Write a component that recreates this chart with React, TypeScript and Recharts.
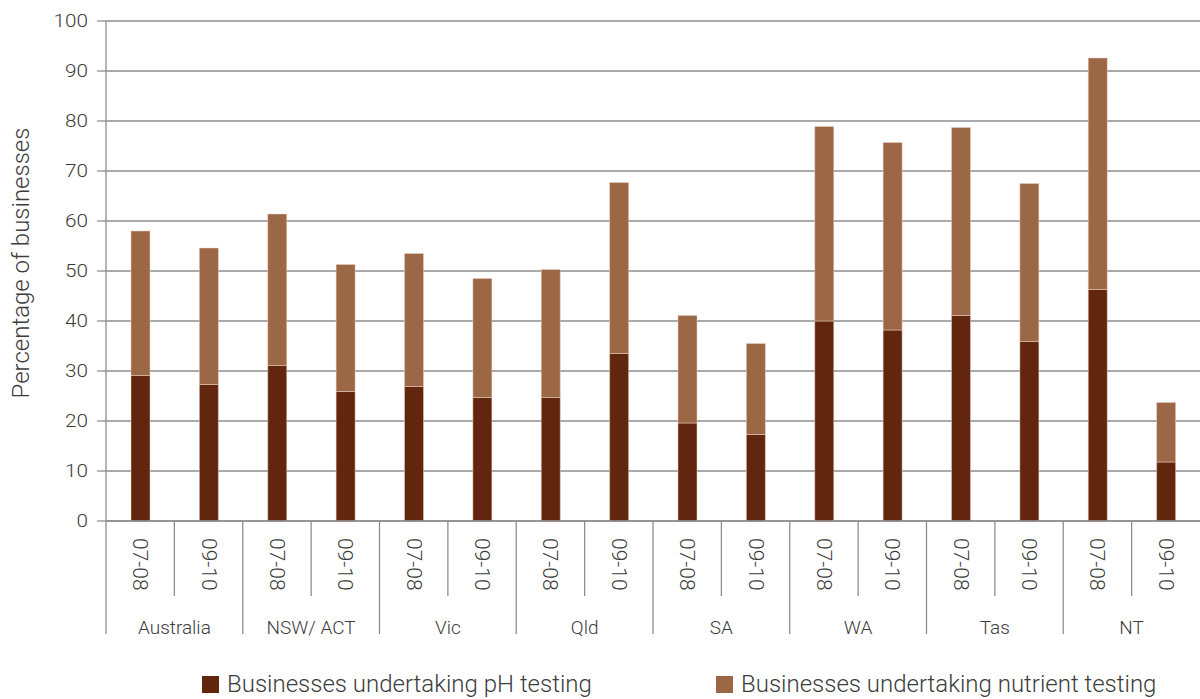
import { Bar, BarChart, CartesianGrid, Legend, XAxis, YAxis } from 'recharts';

const regions = ['Australia', 'NSW/ ACT', 'Vic', 'Qld', 'SA', 'WA', 'Tas', 'NT'];
const periods = ['07-08', '09-10'];

// % of businesses, two periods per region (07-08, 09-10)
const phTesting = [29.1, 27.3, 31.1, 25.9, 26.9, 24.7, 24.7, 33.5, 19.6, 17.3, 40.0, 38.2, 41.1, 35.9, 46.3, 11.8];
const nutrientTesting = [28.9, 27.3, 30.3, 25.4, 26.6, 23.8, 25.6, 34.2, 21.5, 18.2, 38.9, 37.5, 37.6, 31.6, 46.3, 11.9];

const yTicks = [0, 10, 20, 30, 40, 50, 60, 70, 80, 90, 100];
const seriesOrder = ['ph', 'nutrient'];

const rows = regions.flatMap((region, ri) =>
  periods.map((period, pi) => ({
    id: `${region} ${period}`,
    region,
    period,
    ph: phTesting[ri * 2 + pi],
    nutrient: nutrientTesting[ri * 2 + pi],
  })),
);

const W = 1200;
const H = 699;
const AXIS_W = 106;
const PLOT_W = W - AXIS_W;
const BAND = PLOT_W / rows.length;

const FONT = 'Roboto, "Liberation Sans", sans-serif';
const TEXT = '#3c3c3c';
const LINE = '#8e8e8e';
const DARK = '#62260f';
const LIGHT = '#9c6745';

function ValueTick(props: any) {
  const { x, y, payload } = props;
  return (
    <text
      transform={`translate(${x},${y}) scale(1.12,1)`}
      textAnchor="end"
      dominantBaseline="central"
      fontFamily={FONT}
      fontWeight={300}
      fontSize={18.5}
      fill={TEXT}
    >
      {payload.value}
    </text>
  );
}

function CategoryTick(props: any) {
  const { x, y, index } = props;
  const row = rows[index];
  if (!row) return null;
  const left = x - BAND / 2;
  const groupStart = index % 2 === 0;
  return (
    <g>
      <line x1={left} x2={left} y1={y} y2={groupStart ? y + 113 : y + 75} stroke={LINE} strokeWidth={1.3} />
      <text
        transform={`translate(${x},${y + 17}) rotate(90)`}
        textAnchor="start"
        dominantBaseline="central"
        fontFamily={FONT}
        fontWeight={300}
        fontSize={21}
        fill={TEXT}
      >
        {row.period}
      </text>
      {groupStart && (
        <text
          x={x + BAND / 2}
          y={y + 113}
          textAnchor="middle"
          fontFamily={FONT}
          fontWeight={300}
          fontSize={19}
          fill={TEXT}
        >
          {row.region}
        </text>
      )}
    </g>
  );
}

function AxisTitle(props: any) {
  const vb = props.viewBox || { x: 0, y: 21, width: AXIS_W, height: 500 };
  const cx = vb.x + 21;
  const cy = vb.y + vb.height / 2 - 8;
  return (
    <text
      transform={`translate(${cx},${cy}) rotate(-90)`}
      textAnchor="middle"
      dominantBaseline="central"
      fontFamily={FONT}
      fontWeight={300}
      fontSize={24}
      fill={TEXT}
    >
      Percentage of businesses
    </text>
  );
}

function LegendRow(props: any) {
  const items = [...(props.payload || [])].sort(
    (a: any, b: any) => seriesOrder.indexOf(a.dataKey) - seriesOrder.indexOf(b.dataKey),
  );
  const slots = [202, 716];
  return (
    <svg width={W} height={44} style={{ display: 'block' }}>
      {items.map((item: any, i: number) => (
        <g key={item.value}>
          <rect x={slots[i]} y={21} width={17} height={17} fill={item.color} />
          <text
            x={slots[i] + 25}
            y={37}
            fontFamily={FONT}
            fontWeight={300}
            fontSize={24}
            fill={TEXT}
          >
            {item.value}
          </text>
        </g>
      ))}
    </svg>
  );
}

export default function App() {
  return (
    <div style={{ position: 'absolute', left: 0, top: 0, width: W, height: H, background: '#fff' }}>
      <BarChart width={W} height={H} data={rows} margin={{ top: 21, right: 0, bottom: 0, left: 0 }} barSize={19}>
        <CartesianGrid vertical={false} stroke={LINE} strokeWidth={1.3} />
        <XAxis
          dataKey="id"
          interval={0}
          height={134}
          tickLine={false}
          tickSize={0}
          tickMargin={0}
          axisLine={{ stroke: LINE, strokeWidth: 1.3 }}
          tick={<CategoryTick />}
        />
        <YAxis
          width={AXIS_W}
          domain={[0, 100]}
          ticks={yTicks}
          interval={0}
          tickSize={9}
          tickMargin={9}
          axisLine={{ stroke: LINE, strokeWidth: 1.3 }}
          tickLine={{ stroke: LINE, strokeWidth: 1.3 }}
          tick={<ValueTick />}
          label={<AxisTitle />}
        />
        <Legend
          verticalAlign="bottom"
          content={<LegendRow />}
          wrapperStyle={{ left: 0, width: W }}
        />
        <Bar
          dataKey="ph"
          name="Businesses undertaking pH testing"
          stackId="a"
          fill={DARK}
          stroke="#e8d2c4"
          strokeWidth={0.5}
          isAnimationActive={false}
        />
        <Bar
          dataKey="nutrient"
          name="Businesses undertaking nutrient testing"
          stackId="a"
          fill={LIGHT}
          stroke="#e8d2c4"
          strokeWidth={0.5}
          isAnimationActive={false}
        />
      </BarChart>
    </div>
  );
}
